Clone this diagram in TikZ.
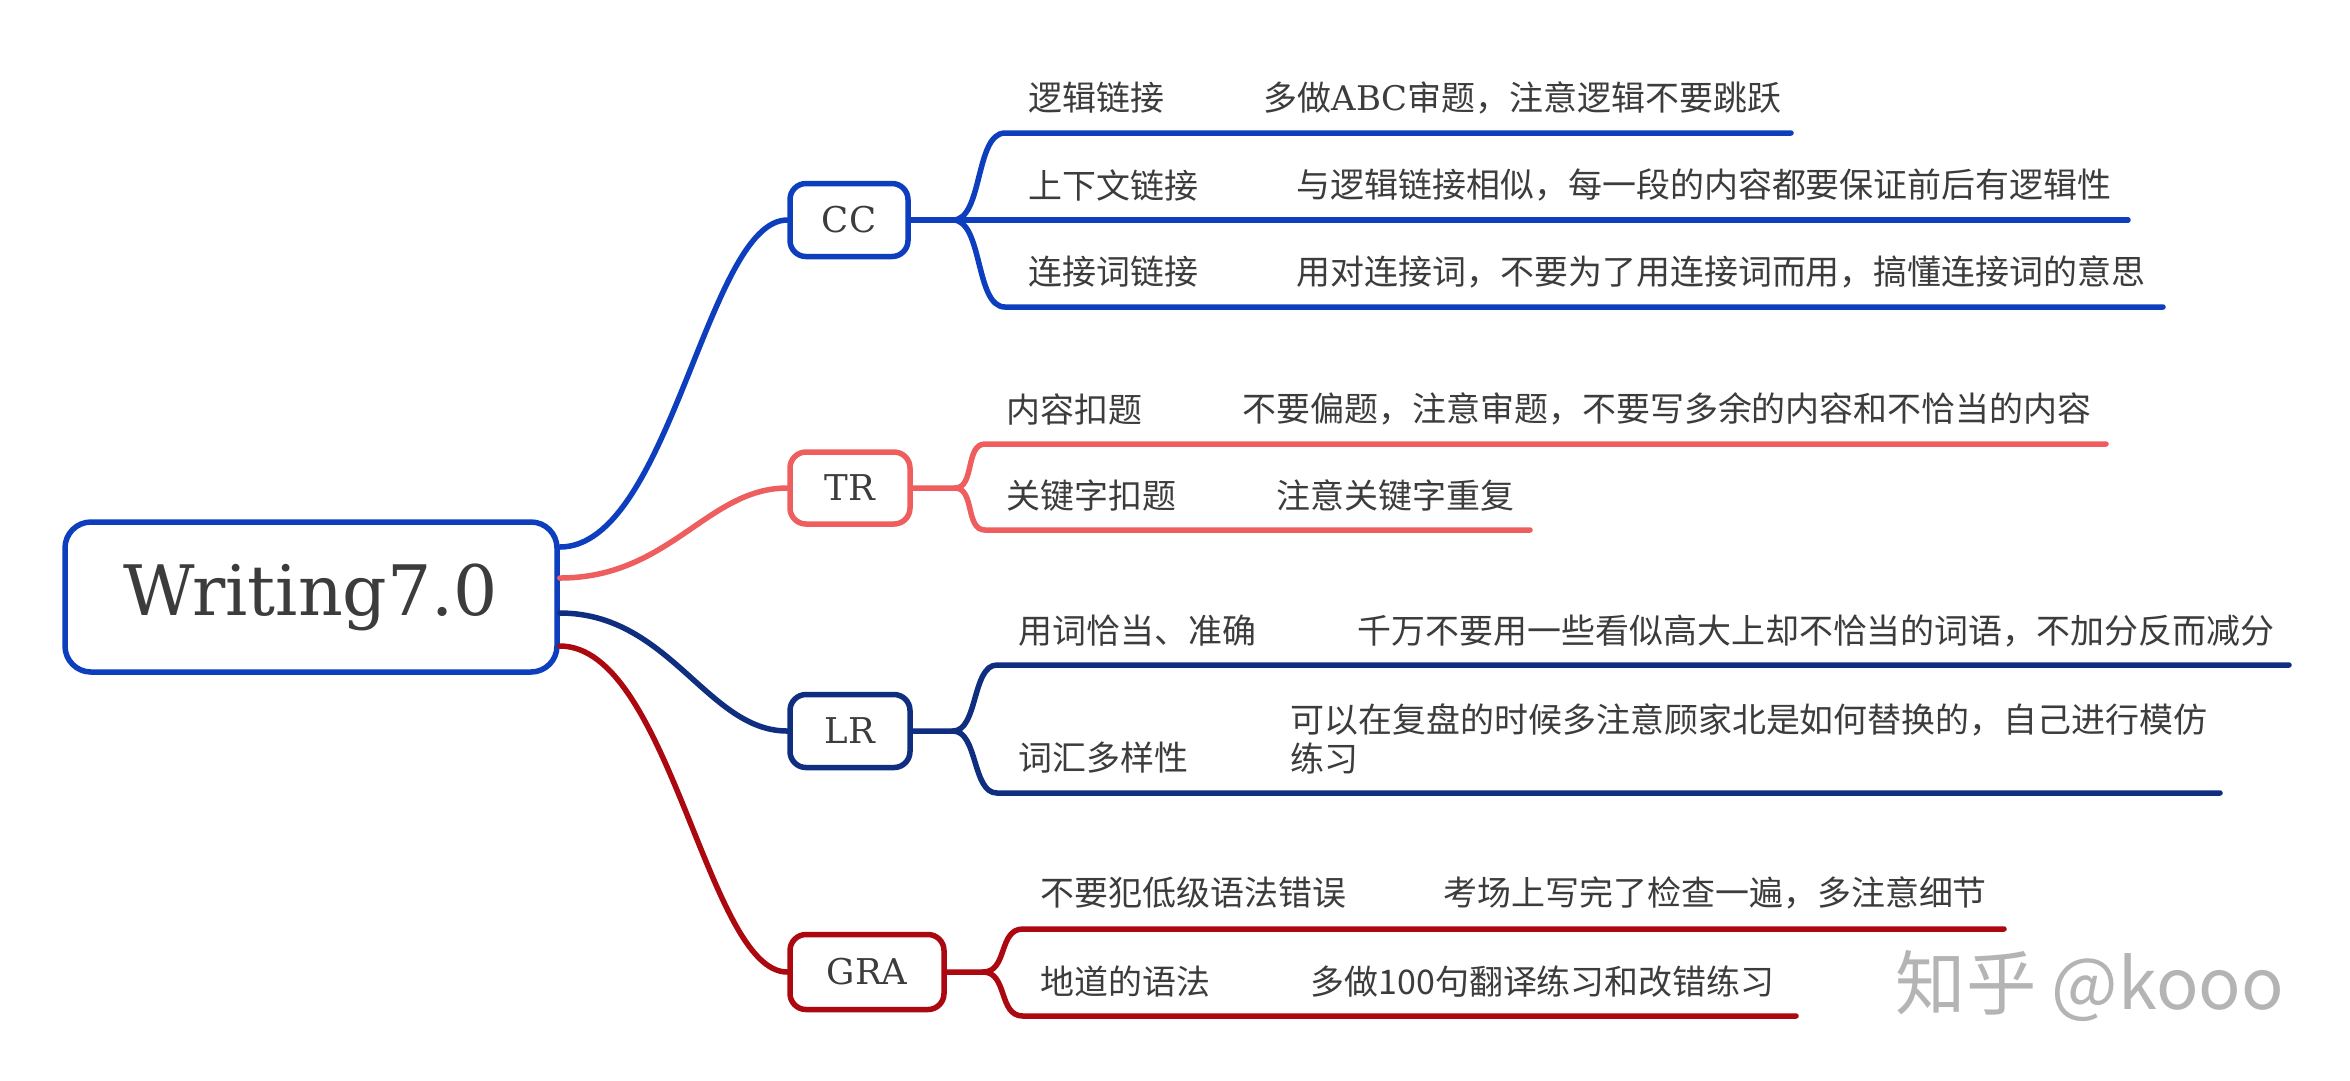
\documentclass[tikz,border=0pt]{standalone}
\usepackage{fontspec}
\newfontfamily\cjk{Noto Sans CJK SC}
\newfontfamily\tw{DejaVu Serif}
\usetikzlibrary{calc}
\definecolor{ccblue}{RGB}{12,62,190}
\definecolor{trpink}{RGB}{238,94,94}
\definecolor{lrnavy}{RGB}{16,46,128}
\definecolor{grared}{RGB}{172,8,16}
\definecolor{txt}{RGB}{60,60,60}
\definecolor{wm}{RGB}{180,180,180}
\begin{document}
\begin{tikzpicture}[x=0.1mm,y=-0.1mm,
  box/.style={draw,line width=0.55mm,rounded corners=1.6mm,fill=white,text=txt,inner sep=0pt,font=\tw\fontsize{10.1pt}{12pt}\selectfont},
  lbl/.style={anchor=west,inner sep=0pt,text=txt,font=\cjk\fontsize{9.66pt}{11.1pt}\selectfont},
  link/.style={line width=0.55mm,line cap=round},
]
\useasboundingbox[fill=white] (0,0) rectangle (2350,1080);

% main node
\node[box,draw=ccblue,rounded corners=2.6mm,minimum width=49.2mm,minimum height=15mm,font=\tw\fontsize{19.8pt}{22pt}\selectfont] (main) at (311,597) {Writing7.0};

% sub nodes
\node[box,draw=ccblue,minimum width=11.8mm,minimum height=7.3mm] (cc) at (849,220) {CC};
\node[box,draw=trpink,minimum width=12mm,minimum height=7.2mm] (tr) at (850,488) {TR};
\node[box,draw=lrnavy,minimum width=12mm,minimum height=7.3mm] (lr) at (850,731) {LR};
\node[box,draw=grared,minimum width=15.4mm,minimum height=7.5mm] (gra) at (867,972) {GRA};

% main connectors
\coordinate (m1) at ($(main.east)+(0,-50)$);
\coordinate (m2) at ($(main.east)+(0,-19)$);
\coordinate (m3) at ($(main.east)+(0,16)$);
\coordinate (m4) at ($(main.east)+(0,49)$);
\draw[link,ccblue] (m1) .. controls +(110,0) and +(-80,0) .. (cc.west);
\draw[link,trpink] (m2) .. controls +(110,0) and +(-80,0) .. (tr.west);
\draw[link,lrnavy] (m3) .. controls +(110,0) and +(-80,0) .. (lr.west);
\draw[link,grared] (m4) .. controls +(110,0) and +(-80,0) .. (gra.west);

% CC branches
\coordinate (ccb) at (953,220);
\coordinate (cc1s) at (1005,133); \coordinate (cc1e) at (1791,133);
\coordinate (cc2e) at (2128,220);
\coordinate (cc3s) at (1005,307); \coordinate (cc3e) at (2163,307);
\draw[link,ccblue] (cc.east) -- (ccb) .. controls +(30,0) and +(-30,0) .. (cc1s) -- (cc1e);
\draw[link,ccblue] (cc.east) -- (cc2e);
\draw[link,ccblue] (ccb) .. controls +(30,0) and +(-30,0) .. (cc3s) -- (cc3e);

% TR branches
\coordinate (trb) at (955,488);
\coordinate (tr1s) at (985,444); \coordinate (tr1e) at (2106,444);
\coordinate (tr2s) at (985,530); \coordinate (tr2e) at (1530,530);
\draw[link,trpink] (tr.east) -- (trb) .. controls +(20,0) and +(-20,0) .. (tr1s) -- (tr1e);
\draw[link,trpink] (trb) .. controls +(20,0) and +(-20,0) .. (tr2s) -- (tr2e);

% LR branches
\coordinate (lrb) at (953,731);
\coordinate (lr1s) at (997,665); \coordinate (lr1e) at (2289,665);
\coordinate (lr2s) at (997,793); \coordinate (lr2e) at (2220,793);
\draw[link,lrnavy] (lr.east) -- (lrb) .. controls +(25,0) and +(-25,0) .. (lr1s) -- (lr1e);
\draw[link,lrnavy] (lrb) .. controls +(25,0) and +(-25,0) .. (lr2s) -- (lr2e);

% GRA branches
\coordinate (grab) at (983,972);
\coordinate (gra1s) at (1023,929); \coordinate (gra1e) at (2004,929);
\coordinate (gra2s) at (1023,1016); \coordinate (gra2e) at (1796,1016);
\draw[link,grared] (gra.east) -- (grab) .. controls +(25,0) and +(-25,0) .. (gra1s) -- (gra1e);
\draw[link,grared] (grab) .. controls +(25,0) and +(-25,0) .. (gra2s) -- (gra2e);

% CC texts
\node[lbl] (cca) at (1028,98) {逻辑链接};
\node[lbl] (ccad) at (1263,98) {多做{\tw ABC}审题，注意逻辑不要跳跃};
\node[lbl] (ccb2) at (1028,185) {上下文链接};
\node[lbl] (ccbd) at (1296,185) {与逻辑链接相似，每一段的内容都要保证前后有逻辑性};
\node[lbl] (ccc) at (1028,272) {连接词链接};
\node[lbl] (cccd) at (1296,272) {用对连接词，不要为了用连接词而用，搞懂连接词的意思};

% TR texts
\node[lbl] (tra) at (1006,409) {内容扣题};
\node[lbl] (trad) at (1242,409) {不要偏题，注意审题，不要写多余的内容和不恰当的内容};
\node[lbl] (trb2) at (1006,496) {关键字扣题};
\node[lbl] (trbd) at (1276,496) {注意关键字重复};

% LR texts
\node[lbl] (lra) at (1018,631) {用词恰当、准确};
\node[lbl] (lrad) at (1357,631) {千万不要用一些看似高大上却不恰当的词语，不加分反而减分};
\node[lbl] (lrb2) at (1018,758) {词汇多样性};
\node[lbl,align=left] (lrbd) at (1290,738.5) {可以在复盘的时候多注意顾家北是如何替换的，自己进行模仿\\练习};

% GRA texts
\node[lbl] (graa) at (1040,893) {不要犯低级语法错误};
\node[lbl] (graad) at (1443,893) {考场上写完了检查一遍，多注意细节};
\node[lbl] (grab2) at (1040,982) {地道的语法};
\node[lbl] (grabd) at (1310,982) {多做100句翻译练习和改错练习};

% watermark
\node[anchor=west,inner sep=0pt,text=wm,font=\cjk\fontsize{20pt}{23pt}\selectfont] (wmk) at (1895,986) {知乎 @kooo};
\end{tikzpicture}
\end{document}
